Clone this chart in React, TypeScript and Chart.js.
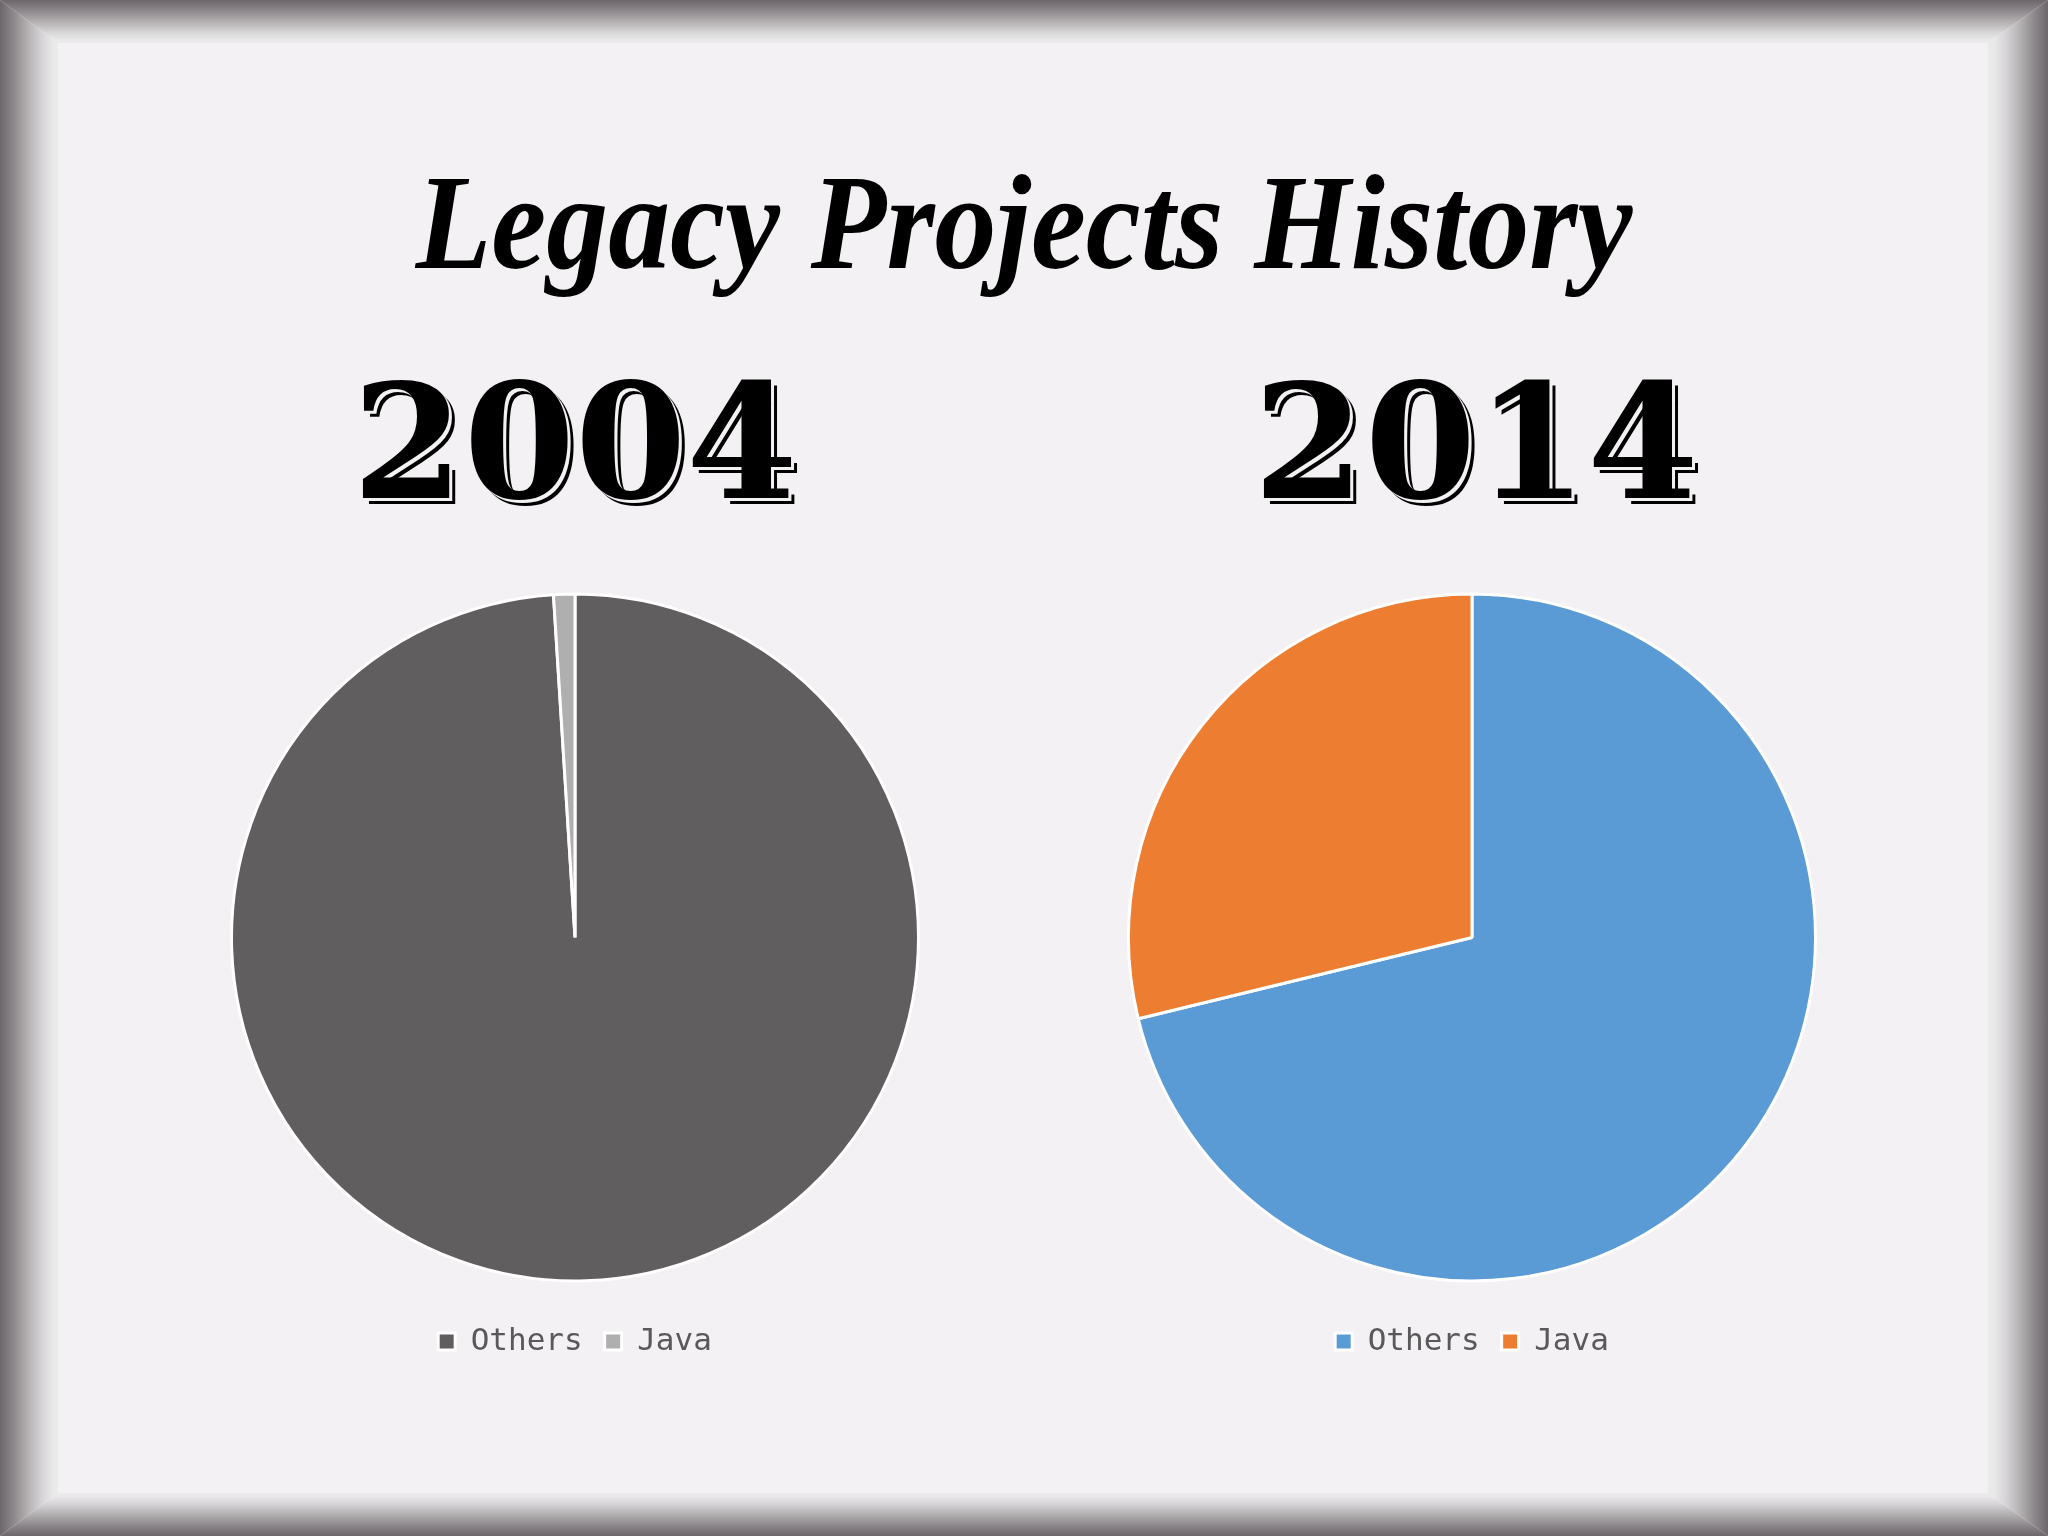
import React, { useEffect, useRef } from "react";
import { Chart, registerables } from "chart.js";

Chart.register(...registerables);

// ---- data ----
const categories = ["Others", "Java"];
const values2004 = [99, 1];
const values2014 = [71.2, 28.8];
const colors2004 = ["#605e5f", "#b0afb0"];
const colors2014 = ["#5b9bd5", "#ed7d31"];
const titleText = "Legacy Projects History";
const yearLabels = ["2004", "2014"];

const BG = "#f3f1f3";

function PieChart({ values, colors, centerX }: { values: number[]; colors: string[]; centerX: number }) {
  const ref = useRef<HTMLCanvasElement>(null);
  useEffect(() => {
    const chart = new Chart(ref.current!, {
      type: "pie",
      data: {
        labels: categories,
        datasets: [
          {
            data: values,
            backgroundColor: colors,
            borderColor: "#ffffff",
            borderWidth: 3,
          },
        ],
      },
      options: {
        animation: false,
        responsive: false,
        maintainAspectRatio: false,
        layout: { padding: 0 },
        plugins: {
          legend: {
            position: "bottom",
            labels: {
              font: { family: "'DejaVu Sans Mono', monospace", size: 31 },
              color: "#595959",
              boxWidth: 17,
              boxHeight: 17,
              padding: 22,
            },
          },
          tooltip: { enabled: false },
        },
      },
    });
    return () => chart.destroy();
  }, []);
  const W = 690;
  const H = 796;
  return (
    <canvas
      ref={ref}
      width={W}
      height={H}
      style={{ position: "absolute", left: centerX - W / 2, top: 571, width: W, height: H }}
    />
  );
}

function Year({ text, centerX }: { text: string; centerX: number }) {
  return (
    <div
      style={{
        position: "absolute",
        left: centerX - 400,
        width: 800,
        top: 362,
        textAlign: "center",
        fontFamily: "'DejaVu Serif', serif",
        fontWeight: "bold",
        fontSize: 160,
        lineHeight: 1,
        color: "#000",
        textShadow: `3px 3px 0 ${BG}, 6px 6px 0 #000`,
        whiteSpace: "nowrap",
      }}
    >
      {text}
    </div>
  );
}

export default function App() {
  const dark = "#6d676b";
  return (
    <div
      style={{
        position: "absolute",
        left: 0,
        top: 0,
        width: 2048,
        height: 1536,
        background: BG,
        overflow: "hidden",
      }}
    >
      {/* frame */}
      <div
        style={{
          position: "absolute",
          left: 0,
          top: 0,
          width: 2048,
          height: 43,
          background: `linear-gradient(to bottom, ${dark} 0px, #8b8689 10px, #b4b1b3 22px, #d6d4d6 32px, #e8e7e8 39px, #ecebec 43px)`,
          clipPath: "polygon(0 0, 100% 0, calc(100% - 60px) 100%, 58px 100%)",
        }}
      />
      <div
        style={{
          position: "absolute",
          left: 0,
          top: 1493,
          width: 2048,
          height: 43,
          background: `linear-gradient(to top, ${dark} 0px, #8b8689 10px, #b4b1b3 22px, #d6d4d6 32px, #e8e7e8 39px, #ecebec 43px)`,
          clipPath: "polygon(58px 0, calc(100% - 60px) 0, 100% 100%, 0 100%)",
        }}
      />
      <div
        style={{
          position: "absolute",
          left: 0,
          top: 0,
          width: 58,
          height: 1536,
          background: `linear-gradient(to right, ${dark} 0px, #8b8689 13px, #b4b1b3 28px, #d6d4d6 42px, #e8e7e8 52px, #ecebec 58px)`,
          clipPath: "polygon(0 0, 100% 43px, 100% calc(100% - 43px), 0 100%)",
        }}
      />
      <div
        style={{
          position: "absolute",
          left: 1988,
          top: 0,
          width: 60,
          height: 1536,
          background: `linear-gradient(to left, ${dark} 0px, #8b8689 13px, #b4b1b3 28px, #d6d4d6 42px, #e8e7e8 53px, #ecebec 60px)`,
          clipPath: "polygon(0 43px, 100% 0, 100% 100%, 0 calc(100% - 43px))",
        }}
      />

      {/* title */}
      <div
        style={{
          position: "absolute",
          left: 0,
          width: 2048,
          top: 154,
          textAlign: "center",
          fontFamily: "'Liberation Serif', serif",
          fontWeight: "bold",
          fontStyle: "italic",
          fontSize: 136,
          lineHeight: 1,
          color: "#000",
          whiteSpace: "nowrap",
          transform: "scaleX(0.91)",
          transformOrigin: "1025px 0",
        }}
      >
        {titleText}
      </div>

      <Year text={yearLabels[0]} centerX={575} />
      <Year text={yearLabels[1]} centerX={1476} />

      <PieChart values={values2004} colors={colors2004} centerX={575} />
      <PieChart values={values2014} colors={colors2014} centerX={1472} />
    </div>
  );
}
